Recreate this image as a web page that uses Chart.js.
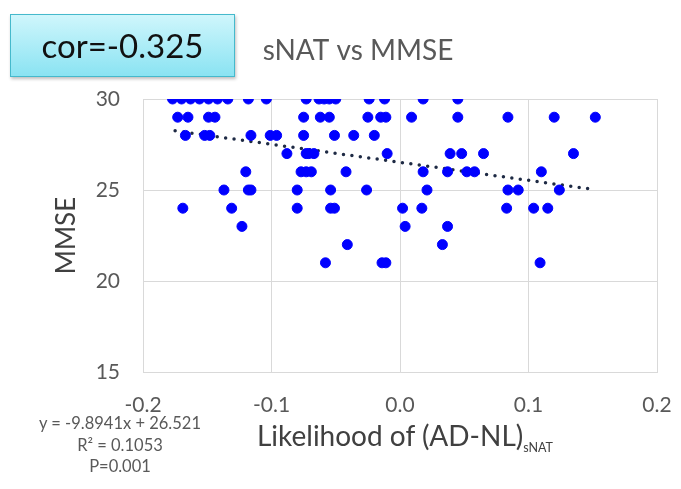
<!DOCTYPE html>
<html lang="en">
<head>
    <meta charset="UTF-8">
    <title>sNAT vs MMSE</title>
    <script src="https://cdn.jsdelivr.net/npm/chart.js"></script>
    <style>
        body { margin: 0; background: #fff; font-family: Lato, "Open Sans", sans-serif; }
        #wrap { position: relative; width: 681px; height: 489px; }
        #chart { position: absolute; left: 0; top: 0; }
        .corBox {
            position: absolute; left: 10px; top: 14px; width: 223px; height: 61px;
            border: 1.5px solid #45b9cc;
            background: linear-gradient(#cff6fc, #8ae3f2);
            box-shadow: 1px 2px 3px rgba(0,0,0,0.25);
            font-size: 33px; line-height: 61px; text-align: center; color: #111;
        }
        .xTitle {
            position: absolute; left: 205px; width: 400px; top: 418px;
            text-align: center; font-size: 28px; color: #404040;
        }
        .xTitle sub { font-size: 12.5px; vertical-align: -6px; }
        .fitText {
            position: absolute; left: 20px; width: 200px; text-align: center;
            font-size: 16.5px; color: #595959; line-height: 21.5px; top: 413px;
        }
    </style>
</head>
<body>
<div id="wrap">
    <canvas id="chart" width="681" height="489"></canvas>
    <div class="corBox">cor=-0.325</div>
    <div class="xTitle">Likelihood of (AD-NL)<sub>sNAT</sub></div>
    <div class="fitText">y = -9.8941x + 26.521<br>R² = 0.1053<br>P=0.001</div>
</div>

<script>
    // MMSE scores (rows) and the sNAT likelihood of each subject at that score
    const mmseLevels = [30, 29, 28, 27, 26, 25, 24, 23, 22, 21];
    const likelihoodByLevel = [
        [-0.177, -0.170, -0.163, -0.156, -0.149, -0.142, -0.134, -0.118, -0.104, -0.073, -0.063, -0.059, -0.055, -0.050, -0.024, -0.012, 0.018, 0.045],
        [-0.173, -0.165, -0.149, -0.144, -0.075, -0.062, -0.055, -0.025, -0.015, -0.011, 0.009, 0.045, 0.084, 0.120, 0.152],
        [-0.167, -0.152, -0.148, -0.116, -0.101, -0.096, -0.075, -0.051, -0.036, -0.020],
        [-0.088, -0.073, -0.071, -0.067, -0.010, 0.039, 0.048, 0.065, 0.135],
        [-0.120, -0.077, -0.073, -0.069, -0.042, 0.018, 0.037, 0.052, 0.058, 0.110],
        [-0.137, -0.118, -0.116, -0.080, -0.054, -0.026, 0.021, 0.084, 0.092, 0.124],
        [-0.169, -0.131, -0.080, -0.054, -0.051, 0.002, 0.017, 0.083, 0.104, 0.115],
        [-0.123, 0.004, 0.037],
        [-0.041, 0.033],
        [-0.058, -0.014, -0.011, 0.109]
    ];

    // linear fit shown on the chart
    const fitSlope = -9.8941;
    const fitIntercept = 26.521;
    const fitRange = [-0.175, 0.150];

    const xTicks = [-0.2, -0.1, 0.0, 0.1, 0.2];
    const yTicks = [15, 20, 25, 30];

    const points = [];
    mmseLevels.forEach((score, i) => {
        likelihoodByLevel[i].forEach(x => points.push({ x: x, y: score }));
    });
    const fitLine = fitRange.map(x => ({ x: x, y: fitSlope * x + fitIntercept }));

    const gridColor = '#d9d9d9';
    const tickFont = { family: 'Lato', size: 21 };

    new Chart(document.getElementById('chart').getContext('2d'), {
        type: 'scatter',
        data: {
            datasets: [{
                label: 'MMSE',
                data: points,
                backgroundColor: '#0000ff',
                borderColor: '#0000ff',
                pointRadius: 5,
                pointHoverRadius: 5
            }, {
                label: 'Linear fit',
                type: 'line',
                data: fitLine,
                borderColor: '#1e2a44',
                borderWidth: 3.5,
                borderCapStyle: 'round',
                borderDash: [0, 8.5],
                pointRadius: 0,
                fill: false
            }]
        },
        options: {
            responsive: false,
            animation: false,
            layout: { autoPadding: false, padding: { left: 59, right: 24, top: 0, bottom: 0 } },
            plugins: {
                legend: { display: false },
                tooltip: { enabled: false },
                title: {
                    display: true,
                    text: 'sNAT vs MMSE',
                    color: '#595959',
                    font: { family: 'Lato', size: 28, weight: 'normal' },
                    padding: { top: 34, bottom: 31.4 }
                }
            },
            scales: {
                x: {
                    type: 'linear',
                    min: xTicks[0],
                    max: xTicks[xTicks.length - 1],
                    afterBuildTicks: axis => { axis.ticks = xTicks.map(v => ({ value: v })); },
                    afterFit: axis => { axis.height = 117; },
                    // invisible tick marks push the labels down without widening the padding
                    grid: { color: gridColor, drawTicks: true, tickLength: 21, tickColor: 'rgba(0,0,0,0)' },
                    border: { color: gridColor },
                    ticks: {
                        color: '#595959',
                        font: tickFont,
                        padding: 0,
                        maxRotation: 0,
                        callback: v => (Math.abs(v) < 1e-9 ? 0 : v).toFixed(1)
                    }
                },
                y: {
                    min: yTicks[0],
                    max: yTicks[yTicks.length - 1],
                    afterBuildTicks: axis => { axis.ticks = yTicks.map(v => ({ value: v })); },
                    afterFit: axis => { axis.width = 84; },
                    grid: { color: gridColor, drawTicks: true, tickLength: 23, tickColor: 'rgba(0,0,0,0)' },
                    border: { color: gridColor },
                    ticks: { color: '#595959', font: tickFont, padding: 0 },
                    title: {
                        display: true,
                        text: 'MMSE',
                        color: '#404040',
                        font: { family: 'Lato', size: 26 },
                        padding: { top: -8, bottom: 0 }
                    }
                }
            }
        }
    });
</script>
</body>
</html>
